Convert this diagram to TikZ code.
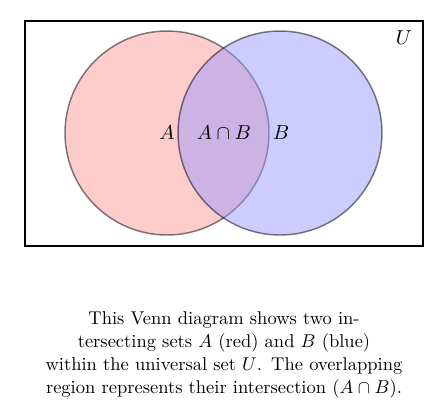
\documentclass[tikz,border=0pt]{standalone}
\usepackage{amsmath,amssymb}
\usetikzlibrary{positioning}
\tikzset{
  setcircle/.style={draw=black,line width=0.8pt,opacity=0.5},
  universe/.style={draw=black,line width=0.8pt},
  setlabel/.style={font=\fontsize{10.95}{13.6}\selectfont,inner sep=1pt},
  caption/.style={text width=7cm,align=center,inner sep=0pt,
                  font=\fontsize{10}{12.4}\selectfont}
}

\begin{document}
\begin{tikzpicture}[x=0.5405pt,y=-0.5405pt]
  \useasboundingbox (0,0) rectangle (447,416);
  % universal set
  \draw[universe] (25,21) rectangle (423,246);
  \node[setlabel] (labU) at (404,38) {$U$};
  % the two sets
  \draw[setcircle,fill=red!40] (167,133) circle[radius=102];
  \draw[setcircle,fill=blue!40] (280,133) circle[radius=102];
  \node[setlabel] (labA) at (167,133) {$A$};
  \node[setlabel] (labAB) at (224,133) {$A \cap B$};
  \node[setlabel] (labB) at (281,133) {$B$};
  % caption
  \node[caption,anchor=north] (cap) at (224,311)
    {This Venn diagram shows two in-\\
     tersecting sets $A$ (red) and $B$ (blue)\\
     within the universal set $U$. The overlapping\\
     region represents their intersection ($A \cap B$).};
\end{tikzpicture}
\end{document}
